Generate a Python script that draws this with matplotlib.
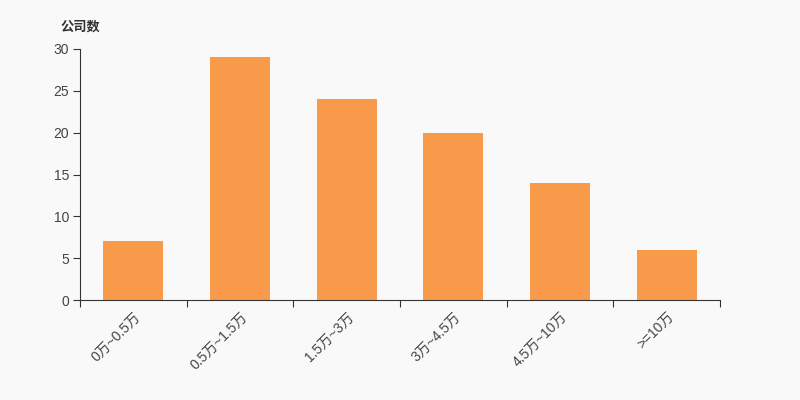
import numpy as np
import matplotlib.pyplot as plt

plt.rcParams['font.family'] = ['Liberation Sans', 'Noto Sans CJK SC', 'DejaVu Sans']

categories = ["0万~0.5万", "0.5万~1.5万", "1.5万~3万", "3万~4.5万", "4.5万~10万", ">=10万"]
counts = [7, 29, 24, 20, 14, 6]

BG = "#f9f9f9"
BAR = "#f89a4a"
AXIS = "#333333"
TEXT = "#444444"

fig = plt.figure(figsize=(8, 4), dpi=100, facecolor=BG)
ax = fig.add_axes([0.1, 0.25, 0.8, 0.6275])
ax.set_facecolor(BG)

x = np.arange(len(categories))
ax.bar(x, counts, width=0.56, color=BAR, zorder=2)

ax.set_xlim(-0.5, len(categories) - 0.5)
ax.set_ylim(0, 30)
ax.set_yticks(range(0, 31, 5))
ax.tick_params(axis='y', length=5, color=AXIS, labelsize=10, labelcolor=TEXT, pad=3)

# ticks on category boundaries, labels at centers
ax.set_xticks(np.arange(len(categories) + 1) - 0.5)
ax.set_xticklabels([])
ax.tick_params(axis='x', which='major', length=5, color=AXIS)
ax.set_xticks(x, minor=True)
ax.set_xticklabels(categories, minor=True, rotation=45, ha='right',
                   rotation_mode='anchor', fontsize=10, color=TEXT)
ax.tick_params(axis='x', which='minor', length=0, pad=7)

for s in ['top', 'right']:
    ax.spines[s].set_visible(False)
for s in ['left', 'bottom']:
    ax.spines[s].set_color(AXIS)

fig.text(0.1, 0.932, "公司数", ha='center', va='center', fontsize=9.5,
         fontweight='bold', color=AXIS)

fig.savefig("out.png", dpi=100, facecolor=BG)
